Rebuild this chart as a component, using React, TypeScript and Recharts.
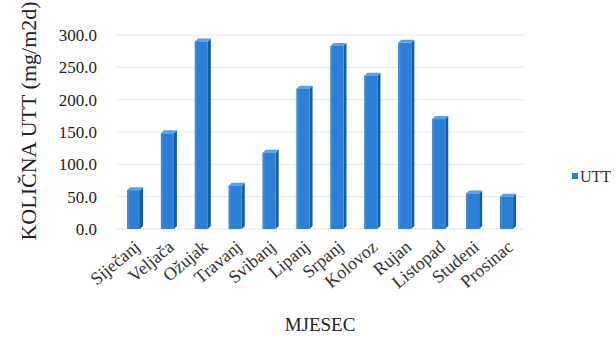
import React from "react"
import { Bar, BarChart, CartesianGrid, XAxis, YAxis } from "recharts"

const months = [
  "Siječanj",
  "Veljača",
  "Ožujak",
  "Travanj",
  "Svibanj",
  "Lipanj",
  "Srpanj",
  "Kolovoz",
  "Rujan",
  "Listopad",
  "Studeni",
  "Prosinac",
]
const uttValues = [60, 148, 290, 67, 118, 217, 283, 237, 288, 170, 55, 50]
const yTicks = [0, 50, 100, 150, 200, 250, 300]

const data = months.map((m, i) => ({ month: m, UTT: uttValues[i] }))

const serif = "Liberation Serif"
const front = "#2b7fd7"
const side = "#1a5aa2"
const top = "#5aa0e8"

// pseudo-3D column: front face, darker right side and a lighter top
const Bar3D = (props: any) => {
  const { x, y, width, height } = props
  if (height <= 0) return null
  const d = 3
  return (
    <g>
      <polygon
        points={`${x + width},${y} ${x + width + d},${y - d} ${x + width + d},${y + height - d} ${x + width},${y + height}`}
        fill={side}
      />
      <polygon
        points={`${x},${y} ${x + d},${y - d} ${x + width + d},${y - d} ${x + width},${y}`}
        fill={top}
      />
      <rect x={x} y={y} width={width} height={height} fill={front} />
      <rect x={x} y={y} width={2} height={height} fill="#3a8ce0" />
    </g>
  )
}

const YTick = (props: any) => {
  const { y, payload } = props
  return (
    <text x={97} y={y} dy={6} textAnchor="end" fontFamily={serif} fontSize={17} fill="#222">
      {payload.value.toFixed(1)}
    </text>
  )
}

const XTick = (props: any) => {
  const { x, y, payload } = props
  return (
    <g transform={`translate(${x + 4},${y + 8})`}>
      <text x={0} y={0} dy={5} textAnchor="end" transform="rotate(-40)" fontFamily={serif} fontSize={18} fill="#333">
        {payload.value}
      </text>
    </g>
  )
}

export default function App() {
  return (
    <div style={{ position: "absolute", left: 0, top: 0, width: 616, height: 337, background: "#fff" }}>
      <BarChart
        width={616}
        height={337}
        data={data}
        margin={{ top: 35, right: 92, left: 57, bottom: 48 }}
      >
        <CartesianGrid vertical={false} stroke="#e8e8e8" />
        <XAxis
          dataKey="month"
          axisLine={false}
          tickLine={false}
          interval={0}
          tick={<XTick />}
          height={60}
        />
        <YAxis
          domain={[0, 300]}
          ticks={yTicks}
          axisLine={false}
          tickLine={false}
          tick={<YTick />}
          width={60}
        />
        <Bar dataKey="UTT" barSize={13} shape={<Bar3D />} isAnimationActive={false} />
        {/* series key */}
        <rect x={572} y={173} width={6} height={6} fill={front} />
        <text x={580} y={182} fontFamily={serif} fontSize={16} fill="#333">
          UTT
        </text>
        <text
          x={36}
          y={121}
          transform="rotate(-90 36 121)"
          textAnchor="middle"
          fontFamily={serif}
          fontSize={22}
          fill="#222"
        >
          KOLIČNA UTT (mg/m2d)
        </text>
        <text x={320} y={331} textAnchor="middle" fontFamily={serif} fontSize={19} fill="#222">
          MJESEC
        </text>
      </BarChart>
    </div>
  )
}
